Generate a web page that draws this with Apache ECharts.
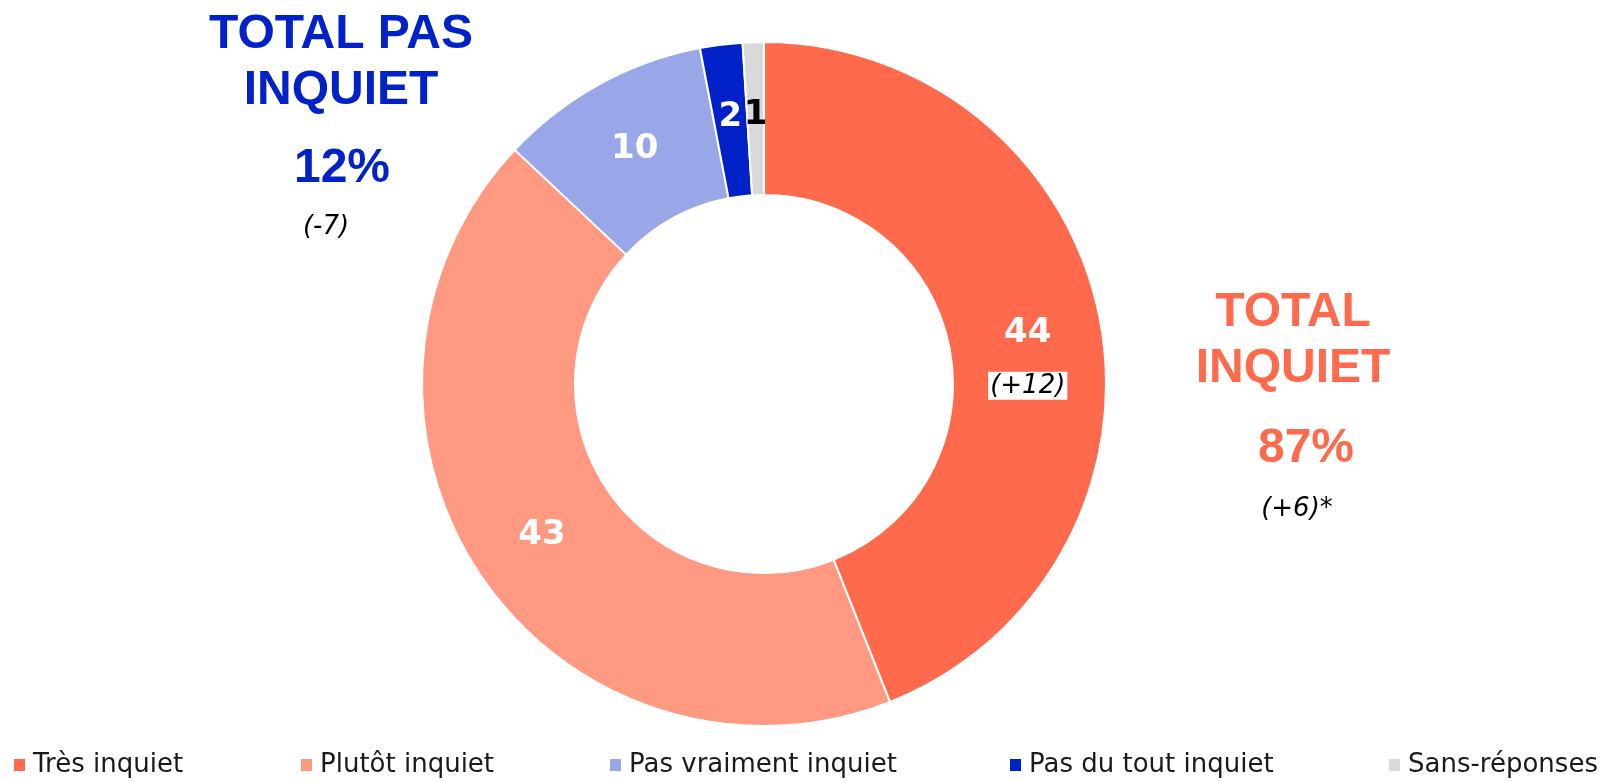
<!DOCTYPE html>
<html>
<head>
<meta charset="utf-8">
<script src="https://cdn.jsdelivr.net/npm/echarts@6/dist/echarts.min.js"></script>
<style>
  html, body { margin: 0; padding: 0; background: #fff; }
  #main { width: 1606px; height: 782px; }
</style>
</head>
<body>
<div id="main"></div>
<script>
var myChart = echarts.init(document.getElementById('main'));

// données
var categories = ['Très inquiet', 'Plutôt inquiet', 'Pas vraiment inquiet', 'Pas du tout inquiet', 'Sans-réponses'];
var values = [44, 43, 10, 2, 1];
var colors = ['#FF6A4D', '#FF9982', '#99A6E8', '#0022C8', '#D9D9D9'];
var labelColors = ['#fff', '#fff', '#fff', '#fff', '#000'];
var deltas = ['(+12)', '', '', '', ''];
var legendLeft = [12, 299, 608, 1008, 1387];

var totals = [
    {title: 'TOTAL PAS\nINQUIET', value: '12%', delta: '(-7)', color: '#0022C8', x: 341, y: 63, vx: 342, vy: 169, dx: 326, dy: 227},
    {title: 'TOTAL\nINQUIET', value: '87%', delta: '(+6)*', color: '#FF6A4D', x: 1293, y: 341, vx: 1306, vy: 449, dx: 1297, dy: 509}
];

var seriesData = values.map(function (v, i) {
    var item = {
        name: categories[i],
        value: v,
        itemStyle: {color: colors[i]},
        label: {color: labelColors[i]}
    };
    if (deltas[i]) {
        item.label.formatter = '{a|{c}}\n{b|' + deltas[i] + '}';
        item.label.offset = [0, 16];
    }
    return item;
});

var legends = categories.map(function (c, i) {
    return {
        data: [c],
        left: legendLeft[i],
        top: 752,
        icon: 'rect',
        itemWidth: 13,
        itemHeight: 14,
        itemGap: 0,
        padding: 0,
        selectedMode: false,
        textStyle: {fontFamily: 'DejaVu Sans', fontSize: 26, color: '#1a1a1a', padding: [0, 0, 0, 2]}
    };
});

var graphics = [];
totals.forEach(function (t) {
    graphics.push({
        type: 'text', x: t.x, y: t.y,
        style: {text: t.title, fill: t.color, font: 'bold 48px "Liberation Sans"', align: 'center', verticalAlign: 'middle', lineHeight: 56}
    });
    graphics.push({
        type: 'text', x: t.vx, y: t.vy,
        style: {text: t.value, fill: t.color, font: 'bold 48px "Liberation Sans"', align: 'center', verticalAlign: 'middle'}
    });
    graphics.push({
        type: 'text', x: t.dx, y: t.dy,
        style: {text: t.delta, fill: '#000', font: 'italic 26px "DejaVu Sans"', align: 'center', verticalAlign: 'middle'}
    });
});

var option = {
    animation: false,
    legend: legends,
    graphic: graphics,
    series: [{
        type: 'pie',
        center: [764, 384],
        radius: [189, 342],
        startAngle: 90,
        clockwise: true,
        avoidLabelOverlap: false,
        itemStyle: {borderColor: '#fff', borderWidth: 2},
        label: {
            show: true,
            position: 'inside',
            formatter: '{c}',
            fontFamily: 'DejaVu Sans',
            fontWeight: 'bold',
            fontSize: 34,
            rich: {
                a: {fontFamily: 'DejaVu Sans', fontWeight: 'bold', fontSize: 34, color: '#fff', lineHeight: 72},
                b: {fontFamily: 'DejaVu Sans', fontStyle: 'italic', fontWeight: 'normal', fontSize: 26, color: '#000', backgroundColor: '#fff', padding: [2, 2, 0, 2], lineHeight: 34}
            }
        },
        labelLine: {show: false},
        emphasis: {disabled: true},
        data: seriesData
    }]
};

myChart.setOption(option);
</script>
</body>
</html>
